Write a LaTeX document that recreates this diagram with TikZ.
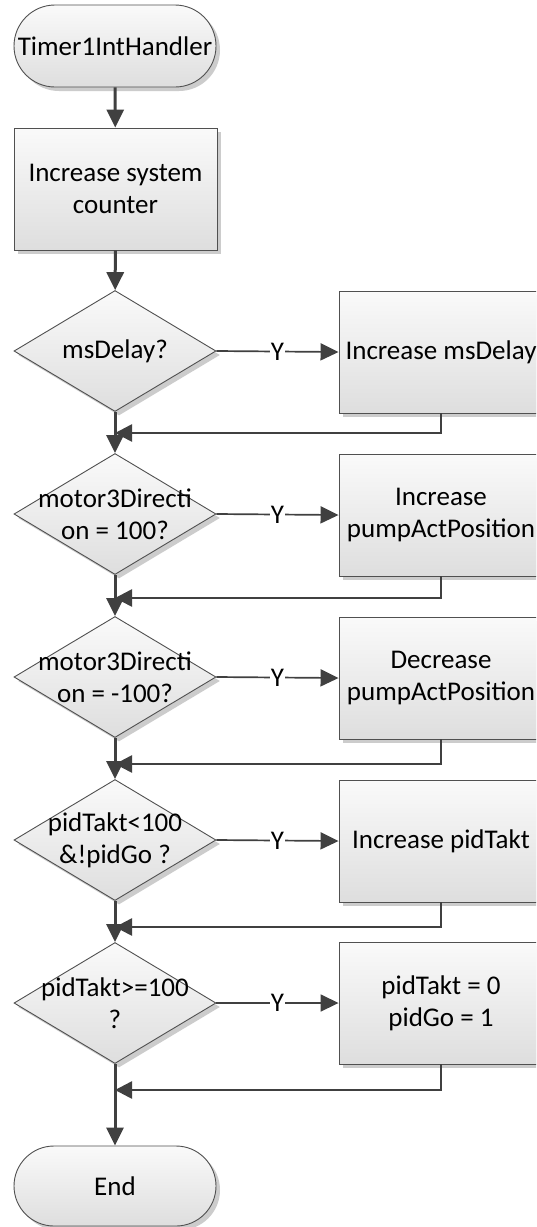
\documentclass[tikz,border=0pt]{standalone}
\usepackage{fontspec}
\setmainfont{Carlito}
\usetikzlibrary{shapes.geometric,shapes.misc,arrows.meta,shadows,calc}
\definecolor{lnc}{HTML}{404040}
\definecolor{edc}{HTML}{505050}
\begin{document}
\begin{tikzpicture}[x=1pt,y=-1pt,
  font=\fontsize{27}{32}\selectfont,
  shd/.style={drop shadow={shadow xshift=4pt,shadow yshift=-4pt,fill=black!20,opacity=1}},
  fillgrad/.style={top color=white!98!black,bottom color=white!87!black},
  term/.style={rounded rectangle,draw=edc,line width=0.9pt,fillgrad,shd,minimum width=202pt,minimum height=#1,inner sep=0pt,align=center},
  procbox/.style={rectangle,draw=edc,line width=0.9pt,fillgrad,shd,minimum width=#1,minimum height=122pt,inner sep=0pt,align=center},
  decis/.style={diamond,draw=edc,line width=0.9pt,fillgrad,shd,minimum width=202pt,minimum height=121pt,inner sep=0pt},
  txt/.style={align=center,inner sep=0pt},
  flow/.style={draw=lnc,line width=3pt,-{Triangle[length=18pt,width=17pt]}},
  back/.style={draw=lnc,line width=2.6pt,-{Triangle[length=17pt,width=17pt]}},
  yes/.style={draw=lnc,line width=1.7pt,-{Triangle[length=18pt,width=17pt]}},
  ylab/.style={fill=white,inner sep=1pt}
]
\useasboundingbox (0,0) rectangle (536,1227);
\clip (0,0) rectangle (536,1227);
\fill[white] (0,0) rectangle (536,1227);

\node[term=82pt] (start) at (115,46) {Timer1IntHandler};
\node[procbox=203pt] (p1) at (115.5,189) {Increase system\\counter};

\node[decis] (d1) at (115,351) {};
\node[decis] (d2) at (115,514) {};
\node[decis] (d3) at (115,677) {};
\node[decis] (d4) at (115,840) {};
\node[decis] (d5) at (115,1003) {};

\node[txt] (t1) at (d1) {msDelay?};
\node[txt] (t2) at (d2) {motor3Directi\\on = 100?};
\node[txt] (t3) at (d3) {motor3Directi\\on = -100?};
\node[txt] (t4) at (d4) {pidTakt<100\\\&!pidGo ?};
\node[txt] (t5) at (d5) {pidTakt>=100\\?};

\node[procbox=204pt] (b1) at (441,352) {Increase msDelay};
\node[procbox=204pt] (b2) at (441,515) {Increase\\pumpActPosition};
\node[procbox=204pt] (b3) at (441,678) {Decrease\\pumpActPosition};
\node[procbox=204pt] (b4) at (441,841) {Increase pidTakt};
\node[procbox=204pt] (b5) at (441,1003) {pidTakt = 0\\pidGo = 1};

\node[term=80pt] (end) at (115,1186) {End};

\coordinate (r1) at (115,433);
\coordinate (r2) at (115,598);
\coordinate (r3) at (115,764);
\coordinate (r4) at (115,927);
\coordinate (r5) at (115,1090);

\draw[flow] (start) -- (p1);
\draw[flow] (p1) -- (d1);
\draw[flow] (d1) -- (d2);
\draw[flow] (d2) -- (d3);
\draw[flow] (d3) -- (d4);
\draw[flow] (d4) -- (d5);
\draw[flow] (d5) -- (end);

\foreach \i in {1,...,5}{
  \draw[yes] (d\i.east) -- (b\i.west) node[midway,ylab] (y\i) {Y};
  \draw[back] (b\i.south) |- (r\i);
}
\end{tikzpicture}
\end{document}
